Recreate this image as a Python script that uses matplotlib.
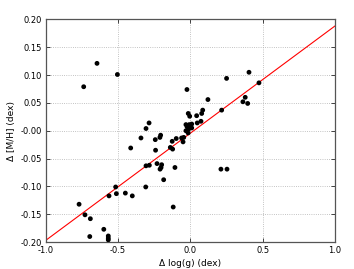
import numpy as np
import matplotlib
matplotlib.use('Agg')
import matplotlib.pyplot as plt

# delta log(g) vs delta [M/H]
dlogg = [-0.737, -0.645, -0.504,
         -0.023, 0.122, 0.251, 0.406, 0.475, 0.380, 0.364, 0.397, 0.217,
         0.086, 0.079, 0.044, -0.014, -0.004, 0.074, 0.048, -0.030, -0.007,
         0.010, -0.022, -0.003, -0.011, 0.010, -0.030,
         -0.045, -0.050, -0.060, -0.125, -0.097, -0.138, -0.122, -0.015,
         -0.306, -0.285, -0.341, -0.242, -0.205, -0.210, -0.412, -0.240,
         -0.306, -0.283, -0.230, -0.198, -0.202, -0.209, -0.184, -0.308,
         -0.106, -0.118, 0.212, 0.254,
         -0.516, -0.511, -0.562, -0.449, -0.401, -0.769, -0.728, -0.691,
         -0.598, -0.695, -0.567, -0.567, -0.567]
dmh = [0.079, 0.121, 0.101,
       0.074, 0.056, 0.094, 0.105, 0.086, 0.060, 0.052, 0.049, 0.037,
       0.037, 0.031, 0.027, 0.031, 0.026, 0.017, 0.014, 0.011, 0.011,
       0.012, 0.007, 0.007, 0.003, 0.005, 0.000,
       -0.012, -0.020, -0.013, -0.019, -0.014, -0.030, -0.033, -0.004,
       0.004, 0.014, -0.013, -0.016, -0.008, -0.012, -0.031, -0.035,
       -0.063, -0.062, -0.059, -0.061, -0.066, -0.069, -0.088, -0.101,
       -0.066, -0.137, -0.069, -0.069,
       -0.101, -0.113, -0.117, -0.112, -0.117, -0.132, -0.151, -0.158,
       -0.177, -0.190, -0.189, -0.193, -0.196]

# linear fit shown in red
fit_slope = 0.1925
fit_icept = -0.0045
fit_x = [-1.0, 1.0]

plt.rcParams['font.family'] = 'DejaVu Sans'
fig = plt.figure(figsize=(3.54, 2.69), dpi=100)
ax = fig.add_axes([0.129, 0.100, 0.817, 0.828])

ax.scatter(dlogg, dmh, s=12, c='k', edgecolors='none', zorder=3)
fx = np.array(fit_x)
ax.plot(fx, fit_slope * fx + fit_icept, color='red', lw=0.8, zorder=2)

ax.set_xlim(-1.0, 1.0)
ax.set_ylim(-0.20, 0.20)
ax.set_xticks([-1.0, -0.5, 0.0, 0.5, 1.0])
ax.set_yticks(np.arange(-0.20, 0.201, 0.05))
ax.xaxis.set_major_formatter(matplotlib.ticker.FormatStrFormatter('%.1f'))
ax.yaxis.set_major_formatter(matplotlib.ticker.FormatStrFormatter('%.2f'))
ax.grid(True, ls=':', color='#b0b0b0', lw=0.6)
ax.tick_params(direction='in', top=True, right=True, labelsize=6, length=3, width=0.5, pad=3)
for sp in ax.spines.values():
    sp.set_color('#555555')
    sp.set_linewidth(0.9)

ax.set_xlabel('Δ log(g) (dex)', fontsize=6.5, labelpad=3)
ax.set_ylabel('Δ [M/H] (dex)', fontsize=6.5, labelpad=3)

fig.savefig('out.png', dpi=100)
